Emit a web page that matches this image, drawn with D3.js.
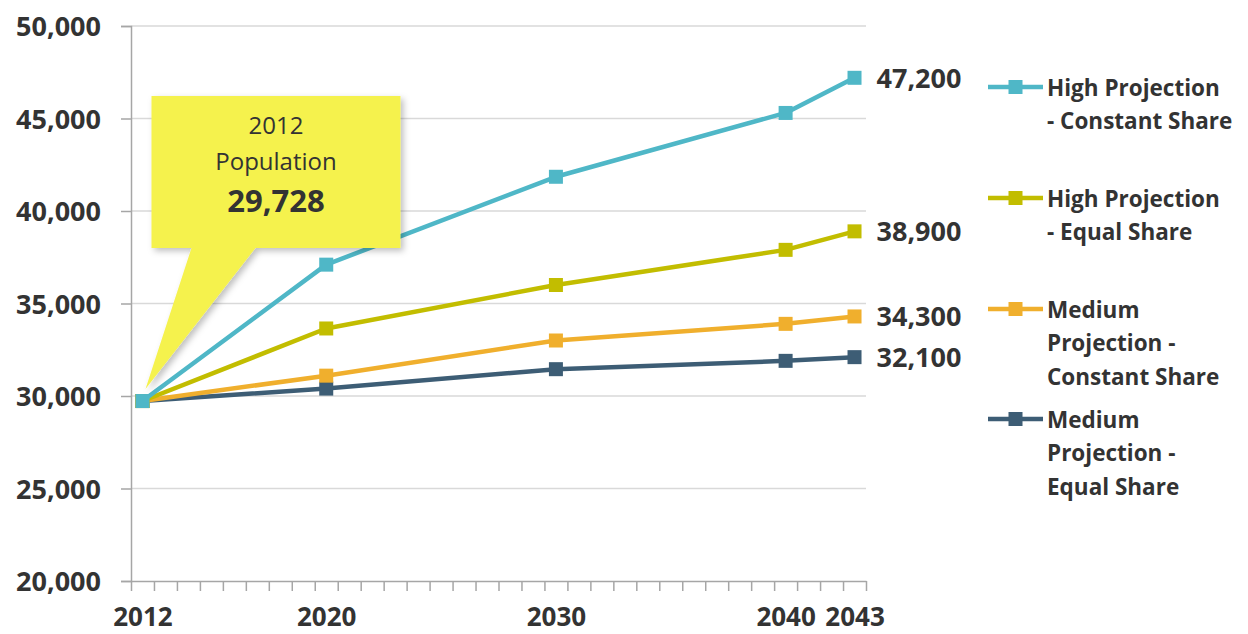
<!DOCTYPE html>
<html>
<head>
<meta charset="utf-8">
<script src="https://cdn.jsdelivr.net/npm/d3@7"></script>
<style>
  html, body { margin: 0; padding: 0; background: #fff; }
  svg { display: block; font-family: "Open Sans", sans-serif; }
</style>
</head>
<body>
<div id="chart"></div>
<script>
// data
const years = [2012, 2020, 2030, 2040, 2043];
const highConstant = [29728, 37100, 41850, 45300, 47200];
const highEqual = [29728, 33650, 36000, 37900, 38900];
const mediumConstant = [29728, 31100, 33000, 33900, 34300];
const mediumEqual = [29728, 30400, 31450, 31900, 32100];
const seriesNames = [
  ["High Projection", "- Constant Share"],
  ["High Projection", "- Equal Share"],
  ["Medium", "Projection -", "Constant Share"],
  ["Medium", "Projection -", "Equal Share"]
];
const seriesColors = ["#4fb7c7", "#c2bd00", "#f0af2d", "#3d5d75"];
const endLabels = ["47,200", "38,900", "34,300", "32,100"];
const yTicks = [20000, 25000, 30000, 35000, 40000, 45000, 50000];
const calloutLines = ["2012", "Population", "29,728"];

const series = [highConstant, highEqual, mediumConstant, mediumEqual];
const textColor = "#333";
const font = "'Open Sans', sans-serif";

const width = 1248, height = 634;
const margin = { top: 26, right: 382, bottom: 53, left: 131 };

const svg = d3.select("#chart")
  .append("svg")
  .attr("width", width)
  .attr("height", height);

// scales: one category band per year, points in the middle of each band
const x = d3.scaleLinear()
  .domain([2011.5, 2043.5])
  .range([margin.left, width - margin.right]);

const y = d3.scaleLinear()
  .domain([20000, 50000])
  .range([height - margin.bottom, margin.top]);

// drop shadow for the callout
const defs = svg.append("defs");
const shadow = defs.append("filter").attr("id", "shadow")
  .attr("x", "-10%").attr("y", "-10%").attr("width", "130%").attr("height", "130%");
shadow.append("feDropShadow")
  .attr("dx", 3).attr("dy", 3).attr("stdDeviation", 3)
  .attr("flood-color", "#000").attr("flood-opacity", 0.25);

// gridlines
svg.append("g")
  .selectAll("line")
  .data(yTicks.slice(1))
  .enter()
  .append("line")
  .attr("x1", x.range()[0])
  .attr("x2", x.range()[1])
  .attr("y1", d => y(d))
  .attr("y2", d => y(d))
  .style("stroke", "#d9d9d9")
  .style("stroke-width", 1.5);

// y axis
const yAxis = svg.append("g")
  .attr("transform", "translate(" + margin.left + ",0)")
  .call(d3.axisLeft(y).tickValues(yTicks).tickSize(10).tickPadding(20).tickFormat(d3.format(",")));
yAxis.attr("font-family", font);
yAxis.selectAll("line, path").style("stroke", "#a6a6a6").style("stroke-width", 1.5);
yAxis.selectAll("text")
  .style("font-size", "27px")
  .style("font-weight", "bold")
  .style("fill", textColor)
  .attr("dy", "0.36em");

// x axis: a minor tick at every year boundary
const xAxis = svg.append("g")
  .attr("transform", "translate(0," + y.range()[0] + ")")
  .call(d3.axisBottom(x).tickValues(d3.range(2011.5, 2044, 1)).tickSize(10).tickSizeOuter(0).tickFormat(""));
xAxis.selectAll("line, path").style("stroke", "#a6a6a6").style("stroke-width", 1.5);

const xLabels = svg.append("g")
  .attr("transform", "translate(0," + y.range()[0] + ")")
  .call(d3.axisBottom(x).tickValues(years).tickSize(0).tickFormat(d3.format("d")));
xLabels.attr("font-family", font);
xLabels.select(".domain").remove();
xLabels.selectAll("text")
  .attr("y", 45)
  .attr("dy", 0)
  .style("font-size", "26px")
  .style("font-weight", "bold")
  .style("fill", textColor);

// lines and markers
const line = d3.line()
  .x((d, i) => x(years[i]))
  .y(d => y(d));

const markerSize = 14;

// draw from the back series to the front
for (let s = series.length - 1; s >= 0; s--) {
  const g = svg.append("g");
  g.append("path")
    .datum(series[s])
    .attr("d", line)
    .style("fill", "none")
    .style("stroke", seriesColors[s])
    .style("stroke-width", 4.5)
    .style("stroke-linejoin", "round");
  g.selectAll("rect")
    .data(series[s])
    .enter()
    .append("rect")
    .attr("x", (d, i) => x(years[i]) - markerSize / 2)
    .attr("y", d => y(d) - markerSize / 2)
    .attr("width", markerSize)
    .attr("height", markerSize)
    .style("fill", seriesColors[s]);
}

// end value labels
svg.append("g")
  .selectAll("text")
  .data(series)
  .enter()
  .append("text")
  .attr("x", d => x(years[years.length - 1]) + 22)
  .attr("y", d => y(d[d.length - 1]))
  .attr("dy", "0.36em")
  .style("font-size", "27px")
  .style("font-weight", "bold")
  .style("fill", textColor)
  .text((d, i) => endLabels[i]);

// callout pointing at the 2012 value
const tipX = x(years[0]) + 3, tipY = y(highConstant[0]) - 12;
const box = { x: tipX + 6, y: tipY - 293, w: 249, h: 152 };
const callout = svg.append("g").attr("filter", "url(#shadow)");
callout.append("path")
  .attr("d", [
    "M", box.x, box.y,
    "H", box.x + box.w,
    "V", box.y + box.h,
    "H", box.x + 104,
    "L", tipX, tipY,
    "L", box.x + 40, box.y + box.h,
    "H", box.x,
    "Z"
  ].join(" "))
  .style("fill", "#f5f24e");

const calloutText = svg.append("g")
  .attr("text-anchor", "middle")
  .style("fill", textColor);
calloutText.selectAll("text")
  .data(calloutLines)
  .enter()
  .append("text")
  .attr("x", box.x + box.w / 2)
  .attr("y", (d, i) => box.y + [38, 74, 116][i])
  .style("font-size", (d, i) => i === 2 ? "31px" : "24px")
  .style("font-weight", (d, i) => i === 2 ? "bold" : "normal")
  .text(d => d);

// legend
const legend = svg.append("g").attr("transform", "translate(988,0)");
const entryTop = [87, 198, 309, 419];
const lineGap = 33.5;

seriesNames.forEach((name, s) => {
  const g = legend.append("g").attr("transform", "translate(0," + entryTop[s] + ")");
  g.append("line")
    .attr("x1", 0).attr("x2", 55)
    .style("stroke", seriesColors[s])
    .style("stroke-width", 4.5);
  g.append("rect")
    .attr("x", 27.5 - markerSize / 2)
    .attr("y", -markerSize / 2)
    .attr("width", markerSize)
    .attr("height", markerSize)
    .style("fill", seriesColors[s]);
  g.selectAll("text")
    .data(name)
    .enter()
    .append("text")
    .attr("x", 59)
    .attr("y", (d, i) => 8.5 + i * lineGap)
    .style("font-size", "22.5px")
    .style("font-weight", "bold")
    .style("fill", textColor)
    .text(d => d);
});
</script>
</body>
</html>
